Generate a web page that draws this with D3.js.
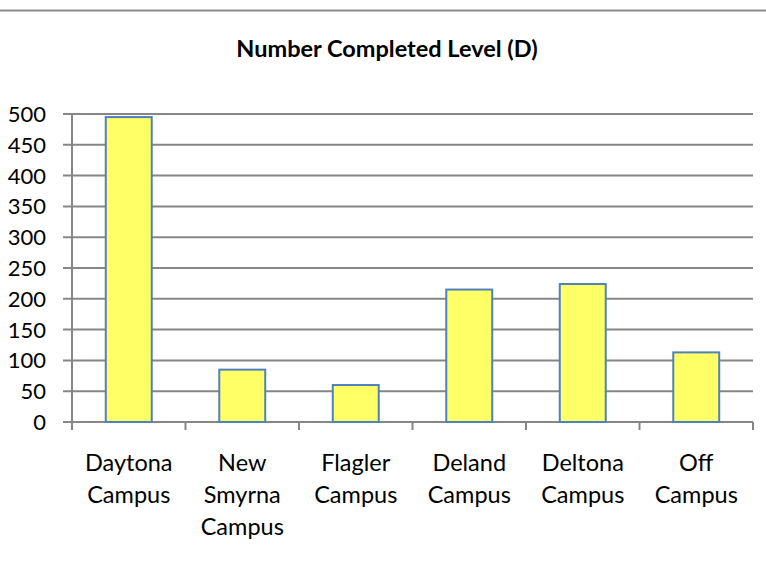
<!DOCTYPE html>
<html lang="en">
<head>
<meta charset="utf-8">
<title>Number Completed Level (D)</title>
<style>
  body { margin: 0; background: #fff; }
  text { font-family: Lato, "Open Sans", sans-serif; fill: #000; }
  .grid line { stroke: #868686; stroke-width: 2px; }
  .bar { fill: #ffff66; stroke: #4f81bd; stroke-width: 2px; }
</style>
<script src="https://d3js.org/d3.v7.min.js"></script>
</head>
<body>
<svg width="766" height="564"></svg>
<script>
// chart data
var campuses = [
  ["Daytona", "Campus"],
  ["New", "Smyrna", "Campus"],
  ["Flagler", "Campus"],
  ["Deland", "Campus"],
  ["Deltona", "Campus"],
  ["Off", "Campus"]
];
var completed = [495, 85, 60, 215, 224, 113];
var yTicks = [0, 50, 100, 150, 200, 250, 300, 350, 400, 450, 500];
var title = "Number Completed Level (D)";

var svg = d3.select("svg"),
    plotL = 72, plotR = 753, plotT = 114, plotB = 422;

// frame line at top
svg.append("line")
    .attr("x1", 0).attr("x2", 766).attr("y1", 10.5).attr("y2", 10.5)
    .attr("stroke", "#8c8c8c").attr("stroke-width", 2);

svg.append("text")
    .attr("x", 387).attr("y", 57)
    .attr("text-anchor", "middle")
    .style("font-weight", "bold")
    .style("font-size", "23.5px")
    .text(title);

var x = d3.scaleBand()
    .domain(d3.range(campuses.length))
    .range([plotL, plotR])
    .paddingInner(0.595)
    .paddingOuter(0.2975);

var y = d3.scaleLinear().domain([0, 500]).range([plotB, plotT]);

// gridlines with tick marks to the left
var grid = svg.append("g").attr("class", "grid");
grid.selectAll("line")
    .data(yTicks)
  .enter().append("line")
    .attr("x1", plotL - 9).attr("x2", plotR)
    .attr("y1", function(d) { return y(d); })
    .attr("y2", function(d) { return y(d); });

// y axis line
grid.append("line")
    .attr("x1", plotL).attr("x2", plotL)
    .attr("y1", plotT).attr("y2", plotB + 8);

// category boundary ticks
var step = (plotR - plotL) / campuses.length;
grid.selectAll(".xt")
    .data(d3.range(campuses.length + 1))
  .enter().append("line")
    .attr("class", "xt")
    .attr("x1", function(i) { return plotL + i * step; })
    .attr("x2", function(i) { return plotL + i * step; })
    .attr("y1", plotB).attr("y2", plotB + 8);

svg.selectAll(".ylab")
    .data(yTicks)
  .enter().append("text")
    .attr("class", "ylab")
    .attr("x", 46)
    .attr("y", function(d) { return y(d); })
    .attr("dy", "0.36em")
    .attr("text-anchor", "end")
    .style("font-size", "22px")
    .text(function(d) { return d; });

svg.selectAll(".bar")
    .data(completed)
  .enter().append("rect")
    .attr("class", "bar")
    .attr("x", function(d, i) { return x(i); })
    .attr("width", x.bandwidth())
    .attr("y", function(d) { return y(d); })
    .attr("height", function(d) { return plotB - y(d); });

var labels = svg.selectAll(".xlab")
    .data(campuses)
  .enter().append("text")
    .attr("class", "xlab")
    .attr("text-anchor", "middle")
    .style("font-size", "23.5px")
    .attr("transform", function(d, i) {
      return "translate(" + (x(i) + x.bandwidth() / 2) + ",471)";
    });

labels.selectAll("tspan")
    .data(function(d) { return d; })
  .enter().append("tspan")
    .attr("x", 0)
    .attr("y", function(d, j) { return j * 32; })
    .text(function(d) { return d; });
</script>
</body>
</html>
